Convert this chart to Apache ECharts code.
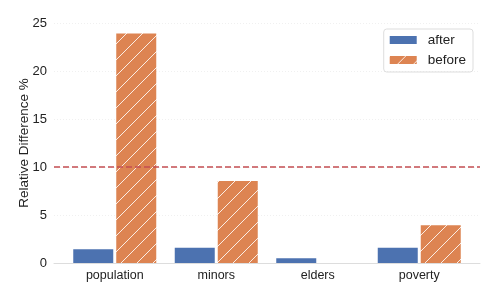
<!DOCTYPE html>
<html><head><meta charset="utf-8">
<script src="https://cdn.jsdelivr.net/npm/echarts@6/dist/echarts.min.js"></script>
<style>html,body{margin:0;padding:0;background:#fff}#c{width:498px;height:299px}</style>
</head><body><div id="c"></div>
<script>
var categories = ['population', 'minors', 'elders', 'poverty'];
var afterValues = [1.43, 1.6, 0.49, 1.6];
var beforeValues = [23.9, 8.53, 0, 3.93];
var yTicks = [0, 5, 10, 15, 20, 25];
var threshold = 10;

function hatch(bg) {
  var c = document.createElement('canvas');
  var s = 16;
  c.width = s; c.height = s;
  var g = c.getContext('2d');
  g.fillStyle = bg; g.fillRect(0, 0, s, s);
  g.strokeStyle = 'rgba(255,255,255,0.85)';
  g.lineWidth = 1;
  g.beginPath();
  g.moveTo(0, s); g.lineTo(s, 0);
  g.moveTo(-s/2, s/2); g.lineTo(s/2, -s/2);
  g.moveTo(s/2, s*1.5); g.lineTo(s*1.5, s/2);
  g.stroke();
  return c;
}
var orange = '#DD8452';
var blue = '#4C72B0';
var font = 'Liberation Sans, Arial, sans-serif';
var chart = echarts.init(document.getElementById('c'), null, {renderer: 'canvas'});
chart.setOption({
  animation: false,
  textStyle: {fontFamily: font},
  grid: [
    {left: 64, right: 28, top: 23, bottom: 36},
    {left: 54, right: 18, top: 23, bottom: 36}
  ],
  legend: {
    right: 25, top: 29, orient: 'vertical', itemWidth: 27, itemHeight: 8, itemGap: 6,
    icon: 'rect',
    padding: [4, 7, 5, 6], borderColor: '#dddddd', borderWidth: 1, borderRadius: 3,
    textStyle: {fontSize: 13.5, lineHeight: 14, color: '#222', fontFamily: font, padding: [0, 0, 0, 6]},
    data: ['after', 'before']
  },
  xAxis: [
    {type: 'category', gridIndex: 0, data: categories,
     axisLine: {show: false}, axisTick: {show: false},
     axisLabel: {fontSize: 12.5, color: '#222', margin: 6}},
    {type: 'value', gridIndex: 1, min: 0, max: 1,
     axisLine: {show: true, lineStyle: {color: '#dddddd', width: 1}},
     axisTick: {show: false}, axisLabel: {show: false}, splitLine: {show: false}}
  ],
  yAxis: [
    {type: 'value', gridIndex: 0, min: 0, max: 25, interval: 5,
     axisLine: {show: false}, axisTick: {show: false}, axisLabel: {show: false}, splitLine: {show: false}},
    {type: 'value', gridIndex: 1, min: yTicks[0], max: yTicks[yTicks.length - 1], interval: 5,
     name: 'Relative Difference %', nameLocation: 'middle', nameGap: 23, nameMoveOverlap: false,
     nameTextStyle: {fontSize: 13.5, color: '#222', fontFamily: font},
     axisLine: {show: false}, axisTick: {show: false},
     axisLabel: {fontSize: 13, color: '#222', margin: 7},
     splitLine: {show: true, lineStyle: {color: '#f0f0f0', type: [1, 2], width: 1}}}
  ],
  series: [
    {name: 'after', type: 'bar', xAxisIndex: 0, yAxisIndex: 0, data: afterValues,
     barWidth: 40, barGap: '7.5%', itemStyle: {color: blue}},
    {name: 'before', type: 'bar', xAxisIndex: 0, yAxisIndex: 0, data: beforeValues,
     barWidth: 40, barGap: '7.5%', itemStyle: {color: {image: hatch(orange), repeat: 'repeat'}}},
    {name: 'threshold', type: 'line', xAxisIndex: 1, yAxisIndex: 1, data: [],
     markLine: {silent: true, symbol: 'none', label: {show: false},
       lineStyle: {color: '#C44E52', type: [6, 3], width: 1.6},
       data: [{yAxis: threshold}]}}
  ]
});
</script></body></html>
